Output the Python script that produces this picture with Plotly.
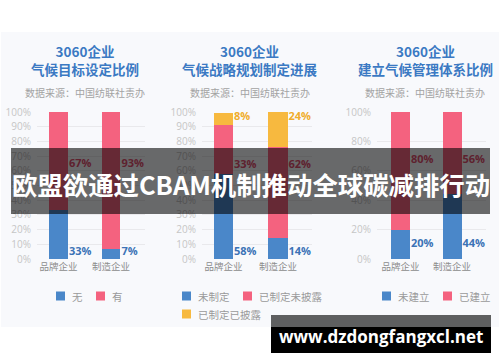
import plotly.graph_objects as go

# ---------------- data ----------------
categories = ["品牌企业", "制造企业"]

p1_none = [33, 7]
p1_have = [67, 93]

p2_not_set = [58, 14]
p2_set_undisclosed = [33, 62]
p2_set_disclosed = [8, 24]

p3_not_built = [20, 44]
p3_built = [80, 56]

titles = ["3060企业<br>气候目标设定比例",
          "3060企业<br>气候战略规划制定进展",
          "3060企业<br>建立气候管理体系比例"]
source_text = "数据来源：中国纺联社责办"
banner_text = "欧盟欲通过CBAM机制推动全球碳减排行动"
site_text = "www.dzdongfangxcl.net"

# ---------------- style ----------------
W, H = 500, 362
BLUE = "#4a87c9"
PINK = "#f4627f"
YELLOW = "#f7b93f"
BLUE_T = "#3c73b6"
PINK_T = "#e0506f"
YELLOW_T = "#f0ad2c"
CJK = "Noto Sans CJK SC"

def px(x):
    return x / W

def py(y):
    return 1 - y / H

fig = go.Figure()

panels = [
    dict(series=[(p1_none, BLUE, BLUE_T, "无", 4.8), (p1_have, PINK, PINK_T, "有", 64.6)],
         xdom=(37, 145), xr=(-0.41, 1.648), bw=0.362, dtick=10, cx=85),
    dict(series=[(p2_not_set, BLUE, BLUE_T, "未制定", 4.8),
                 (p2_set_undisclosed, PINK, PINK_T, "已制定未披露", 64.0),
                 (p2_set_disclosed, YELLOW, YELLOW_T, "已制定已披露", 96.6)],
         xdom=(202, 312), xr=(-0.394, 1.624), bw=0.349, dtick=10, cx=250),
    dict(series=[(p3_not_built, BLUE, BLUE_T, "未建立", 10.2), (p3_built, PINK, PINK_T, "已建立", 67.0)],
         xdom=(377, 486), xr=(-0.456, 1.66), bw=0.369, dtick=20, cx=425),
]

ydom = [py(259), py(112)]
layout_axes = {}
for i, p in enumerate(panels):
    n = "" if i == 0 else str(i + 1)
    xa, ya = "x" + n, "y" + n
    unit_px = (p["xdom"][1] - p["xdom"][0]) / (p["xr"][1] - p["xr"][0])
    for vals, col, tcol, name, ly in p["series"]:
        fig.add_trace(go.Bar(x=[0, 1], y=vals, marker=dict(color=col, line=dict(width=0)),
                             width=p["bw"], xaxis=xa, yaxis=ya, showlegend=False,
                             hoverinfo="skip"))
    for vals, col, tcol, name, ly in p["series"]:
        fig.add_trace(go.Scatter(x=[k + p["bw"] / 2 + 1.0 / unit_px for k in range(2)], y=[ly, ly],
                                 mode="text", text=[f"{v}%" for v in vals],
                                 textposition="middle right",
                                 textfont=dict(family="Open Sans", size=11, color=tcol, weight=700),
                                 xaxis=xa, yaxis=ya, showlegend=False, hoverinfo="skip"))
    layout_axes["xaxis" + n] = dict(domain=[px(p["xdom"][0]), px(p["xdom"][1])],
                                    range=list(p["xr"]), tickvals=[0, 1], ticktext=categories,
                                    showgrid=False, zeroline=False, showline=False, ticks="",
                                    tickfont=dict(family=CJK, size=9.5, color="#8c8c8c"),
                                    anchor=ya, fixedrange=True, automargin=False)
    layout_axes["yaxis" + n] = dict(domain=ydom, range=[0, 100], dtick=p["dtick"],
                                    ticksuffix="%", showgrid=True, gridcolor="#e9e9ec",
                                    gridwidth=1, zeroline=False, showline=False, ticks="",
                                    tickfont=dict(family="Open Sans", size=10, color="#c6c6c6"),
                                    ticklabelstandoff=5, anchor=xa, fixedrange=True,
                                    automargin=False)

shapes = []
annotations = []

# card background
shapes.append(dict(type="rect", xref="paper", yref="paper", x0=px(1), x1=px(499),
                   y0=py(327), y1=py(32), fillcolor="#f8f9fc", line=dict(width=0),
                   layer="below"))

for i, p in enumerate(panels):
    annotations.append(dict(xref="paper", yref="paper", x=px(p["cx"]), y=py(60),
                            text=titles[i], showarrow=False, xanchor="center", yanchor="middle",
                            font=dict(family=CJK, size=13.5, color="#3b79c3", weight=700)))
    annotations.append(dict(xref="paper", yref="paper", x=px(p["cx"]), y=py(92),
                            text=source_text, showarrow=False, xanchor="center", yanchor="middle",
                            font=dict(family=CJK, size=10, color="#a3a3a3")))

# custom legends
legend_pos = [
    [(56, 296), (96, 296)],
    [(182, 296), (243, 296), (182, 314)],
    [(382, 296), (443, 296)],
]
for i, p in enumerate(panels):
    for (vals, col, tcol, name, ly), (lx, lyy) in zip(p["series"], legend_pos[i]):
        shapes.append(dict(type="rect", xref="paper", yref="paper", x0=px(lx), x1=px(lx + 9),
                           y0=py(lyy + 4.5), y1=py(lyy - 4.5), fillcolor=col,
                           line=dict(width=0)))
        annotations.append(dict(xref="paper", yref="paper", x=px(lx + 14), y=py(lyy),
                                text=name, showarrow=False, xanchor="left", yanchor="middle",
                                font=dict(family=CJK, size=10.5, color="#9a9a9a")))

# dark banner
shapes.append(dict(type="rect", xref="paper", yref="paper", x0=px(11), x1=px(490),
                   y0=py(214), y1=py(148), fillcolor="rgba(0,0,0,0.58)",
                   line=dict(width=0), layer="above"))
annotations.append(dict(xref="paper", yref="paper", x=px(250.5), y=py(184),
                        text=banner_text, showarrow=False, xanchor="center", yanchor="middle",
                        font=dict(family=CJK, size=25.4, color="white", weight=700)))

# site box
shapes.append(dict(type="rect", xref="paper", yref="paper", x0=px(271), x1=px(491),
                   y0=py(327), y1=py(315), fillcolor="rgba(0,0,0,0.62)",
                   line=dict(width=0), layer="above"))
shapes.append(dict(type="rect", xref="paper", yref="paper", x0=px(271), x1=px(491),
                   y0=py(353), y1=py(327), fillcolor="#000000",
                   line=dict(width=0), layer="above"))
annotations.append(dict(xref="paper", yref="paper", x=px(381), y=py(336),
                        text=site_text, showarrow=False, xanchor="center", yanchor="middle",
                        font=dict(family="Open Sans", size=17, color="white", weight=700)))

fig.update_layout(width=W, height=H, margin=dict(l=0, r=0, t=0, b=0, autoexpand=False),
                  paper_bgcolor="white", plot_bgcolor="rgba(0,0,0,0)",
                  barmode="stack", bargap=0, showlegend=False,
                  shapes=shapes, annotations=annotations, **layout_axes)

fig.write_html("out.html", config={"displayModeBar": False},
               post_script="document.body.style.margin='0';document.body.style.overflow='hidden';")
